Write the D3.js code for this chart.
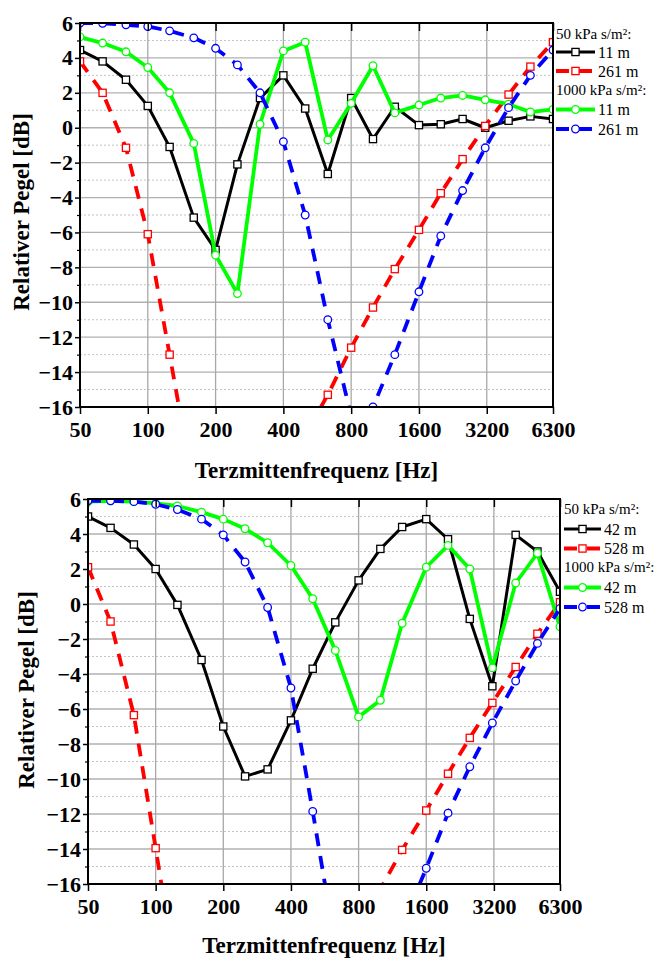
<!DOCTYPE html>
<html><head><meta charset="utf-8">
<script src="https://cdn.jsdelivr.net/npm/d3@7"></script>
<style>body{margin:0;background:#fff;} svg{display:block;}</style>
</head><body>
<script>
// third-octave band centre frequencies (Hz)
const freqs = [50,63,80,100,125,160,200,250,315,400,500,630,800,1000,1250,1600,2000,2500,3150,4000,5000,6300];
const xTickValues = [50,100,200,400,800,1600,3200,6300];
const xTickLabels = ["50","100","200","400","800","1600","3200","6300"];
const yMajorTicks = [-16,-14,-12,-10,-8,-6,-4,-2,0,2,4,6];
const yMinorTicks = [-15,-13,-11,-9,-7,-5,-3,-1,1,3,5];

// top panel: 11 m / 261 m
const top50_11   = [4.45,3.8,2.75,1.25,-1.1,-5.15,-7.0,-2.1,1.7,3.0,1.1,-2.65,1.7,-0.65,1.2,0.15,0.2,0.5,0.0,0.4,0.65,0.5];
const top50_261  = [3.8,2.0,-1.15,-6.1,-13.0,-20.7,-25,-30,-32,-28,-17.6,-15.3,-12.6,-10.3,-8.1,-5.85,-3.75,-1.8,0.1,1.9,3.5,4.9];
const top1000_11 = [5.2,4.85,4.35,3.45,2.0,-0.9,-7.3,-9.5,0.2,4.4,4.9,-0.7,1.4,3.55,0.85,1.3,1.7,1.85,1.6,1.35,0.9,1.05];
const top1000_261= [6.0,5.98,5.9,5.8,5.55,5.15,4.55,3.6,2.0,-0.8,-5.0,-11.0,-16.5,-16.0,-13.0,-9.4,-6.2,-3.6,-1.15,1.15,3.0,4.45];

// bottom panel: 42 m / 528 m
const bot50_42   = [5.0,4.35,3.4,2.0,-0.05,-3.2,-7.0,-9.85,-9.45,-6.65,-3.7,-1.05,1.35,3.15,4.4,4.85,3.7,-0.85,-4.7,3.95,3.0,0.7];
const bot50_528  = [2.1,-1.0,-6.35,-13.95,-21.7,-28,-32,-35,-36,-34,-30,-25,-20,-16.3,-14.05,-11.8,-9.7,-7.65,-5.65,-3.6,-1.7,0.1];
const bot1000_42 = [5.85,5.9,5.85,5.75,5.6,5.25,4.85,4.3,3.5,2.2,0.3,-2.65,-6.45,-5.5,-1.1,2.1,3.35,2.0,-3.65,1.2,2.9,-1.3];
const bot1000_528= [5.9,5.9,5.85,5.7,5.4,4.85,3.95,2.4,-0.2,-4.8,-11.85,-19.5,-27,-30,-18.4,-15.1,-11.95,-9.3,-6.8,-4.4,-2.25,-0.25];

const groupLabel50 = "50 kPa s/m²:";
const groupLabel1000 = "1000 kPa s/m²:";
const xTitle = "Terzmittenfrequenz [Hz]";
const yTitle = "Relativer Pegel [dB]";

const FONT = "'Liberation Serif','Times New Roman',serif";
const svg = d3.select("body").append("svg").attr("width",658).attr("height",958);

const styles = {
  black: {color:"#000000", width:3,   dash:null,   marker:"square"},
  red:   {color:"#ff0000", width:3.8, dash:"13,10", marker:"square"},
  green: {color:"#00ff00", width:3.8, dash:null,   marker:"circle"},
  blue:  {color:"#0000ff", width:3.8, dash:"13,10", marker:"circle"}
};

function drawMarker(g, type, x, y, color) {
  if (type === "square") {
    g.append("rect").attr("x", x-3.6).attr("y", y-3.6).attr("width",7.2).attr("height",7.2)
      .attr("fill","#fff").attr("stroke",color).attr("stroke-width",1.3);
  } else {
    g.append("circle").attr("cx", x).attr("cy", y).attr("r",3.8)
      .attr("fill","#fff").attr("stroke",color).attr("stroke-width",1.3);
  }
}

function panel(cfg) {
  const x = d3.scaleLog().domain([50,6300]).range([cfg.left, cfg.right]);
  const y = d3.scaleLinear().domain([-16,6]).range([cfg.bottom, cfg.top]);
  const g = svg.append("g");
  const clipId = "clip" + cfg.id;
  svg.append("defs").append("clipPath").attr("id", clipId)
    .append("rect").attr("x", cfg.left).attr("y", cfg.top)
    .attr("width", cfg.right-cfg.left).attr("height", cfg.bottom-cfg.top);

  // grid
  g.selectAll(".minor").data(yMinorTicks).enter().append("line")
    .attr("x1", cfg.left).attr("x2", cfg.right).attr("y1", d=>y(d)).attr("y2", d=>y(d))
    .attr("stroke","#c4c4c4").attr("stroke-width",1).attr("stroke-dasharray","2,2");
  g.selectAll(".major").data(yMajorTicks).enter().append("line")
    .attr("x1", cfg.left).attr("x2", cfg.right).attr("y1", d=>y(d)).attr("y2", d=>y(d))
    .attr("stroke","#b0b0b0").attr("stroke-width",1.3);
  g.selectAll(".vgrid").data(xTickValues.slice(1,-1)).enter().append("line")
    .attr("x1", d=>x(d)).attr("x2", d=>x(d)).attr("y1", cfg.top).attr("y2", cfg.bottom)
    .attr("stroke","#a8a8a8").attr("stroke-width",1.3);

  // series
  const plot = g.append("g").attr("clip-path", `url(#${clipId})`);
  cfg.series.forEach(s => {
    const st = styles[s.style];
    const pts = freqs.map((f,i)=>[x(f), y(s.values[i])]);
    plot.append("path").attr("d", d3.line()(pts)).attr("fill","none")
      .attr("stroke", st.color).attr("stroke-width", st.width)
      .attr("stroke-dasharray", st.dash).attr("stroke-linejoin","round");
    pts.forEach(p => drawMarker(plot, st.marker, p[0], p[1], st.color));
  });

  // frame
  g.append("rect").attr("x", cfg.left).attr("y", cfg.top)
    .attr("width", cfg.right-cfg.left).attr("height", cfg.bottom-cfg.top)
    .attr("fill","none").attr("stroke","#000").attr("stroke-width",2);

  // axes
  const xAxis = d3.axisBottom(x).tickValues(xTickValues).tickFormat((d,i)=>xTickLabels[i])
    .tickSize(7).tickPadding(7);
  const xa = g.append("g").attr("transform", `translate(0,${cfg.bottom})`).call(xAxis);
  xa.select(".domain").remove();
  xa.selectAll(".tick line").attr("stroke","#000").attr("stroke-width",1.5);
  xa.selectAll("text").attr("font-family",FONT).attr("font-weight","bold").attr("font-size",22).attr("fill","#000");
  const xaTop = d3.axisTop(x).tickValues(xTickValues).tickFormat("").tickSize(-8);
  const xt = g.append("g").attr("transform", `translate(0,${cfg.top})`).call(xaTop);
  xt.select(".domain").remove();
  xt.selectAll(".tick line").attr("stroke","#000").attr("stroke-width",1.5);

  const yAxis = d3.axisLeft(y).tickValues(yMajorTicks).tickSize(5).tickPadding(2);
  const ya = g.append("g").attr("transform", `translate(${cfg.left},0)`).call(yAxis);
  ya.select(".domain").remove();
  ya.selectAll(".tick line").attr("stroke","#000").attr("stroke-width",1.5);
  ya.selectAll("text").attr("font-family",FONT).attr("font-weight","bold").attr("font-size",22).attr("fill","#000");
  const yMinorAxis = d3.axisLeft(y).tickValues(yMinorTicks).tickSize(3).tickFormat("");
  const ym = g.append("g").attr("transform", `translate(${cfg.left},0)`).call(yMinorAxis);
  ym.select(".domain").remove();
  ym.selectAll(".tick line").attr("stroke","#000").attr("stroke-width",1.2);

  // titles
  g.append("text").attr("x", (cfg.left+cfg.right)/2).attr("y", cfg.xTitleY)
    .attr("text-anchor","middle").attr("font-family",FONT).attr("font-weight","bold")
    .attr("font-size",23).text(xTitle);
  g.append("text").attr("transform", `translate(${cfg.yTitleX},${cfg.yTitleCY}) rotate(-90)`)
    .attr("text-anchor","middle").attr("font-family",FONT).attr("font-weight","bold")
    .attr("font-size",23).text(yTitle);

  // legend
  const L = cfg.legend;
  const lg = g.append("g");
  L.items.forEach(it => {
    if (it.header) {
      lg.append("text").attr("x", L.x).attr("y", it.y).attr("font-family",FONT)
        .attr("font-size",15).text(it.header);
    } else {
      const st = styles[it.style];
      lg.append("line").attr("x1", L.x).attr("x2", L.x+L.len).attr("y1", it.y).attr("y2", it.y)
        .attr("stroke", st.color).attr("stroke-width", st.width).attr("stroke-dasharray", st.dash);
      drawMarker(lg, st.marker, L.x+L.len/2, it.y, st.color);
      lg.append("text").attr("x", L.x+L.len+3).attr("y", it.y+5.5).attr("font-family",FONT)
        .attr("font-size",16).text(it.label);
    }
  });
}

panel({id:"top", left:80, right:553, top:23, bottom:407, xTitleY:478, yTitleX:29, yTitleCY:212,
  series:[{values:top50_11, style:"black"},{values:top50_261, style:"red"},
          {values:top1000_11, style:"green"},{values:top1000_261, style:"blue"}],
  legend:{x:556, len:39, items:[
    {header:groupLabel50, y:39},
    {style:"black", label:"11 m", y:52},
    {style:"red", label:"261 m", y:71},
    {header:groupLabel1000, y:95},
    {style:"green", label:"11 m", y:109.5},
    {style:"blue", label:"261 m", y:129}]}
});

panel({id:"bot", left:88, right:560, top:499, bottom:884, xTitleY:953, yTitleX:34, yTitleCY:690,
  series:[{values:bot50_42, style:"black"},{values:bot50_528, style:"red"},
          {values:bot1000_42, style:"green"},{values:bot1000_528, style:"blue"}],
  legend:{x:564, len:37, items:[
    {header:groupLabel50, y:514},
    {style:"black", label:"42 m", y:529},
    {style:"red", label:"528 m", y:548.5},
    {header:groupLabel1000, y:572},
    {style:"green", label:"42 m", y:587.5},
    {style:"blue", label:"528 m", y:607}]}
});
</script>
</body></html>
